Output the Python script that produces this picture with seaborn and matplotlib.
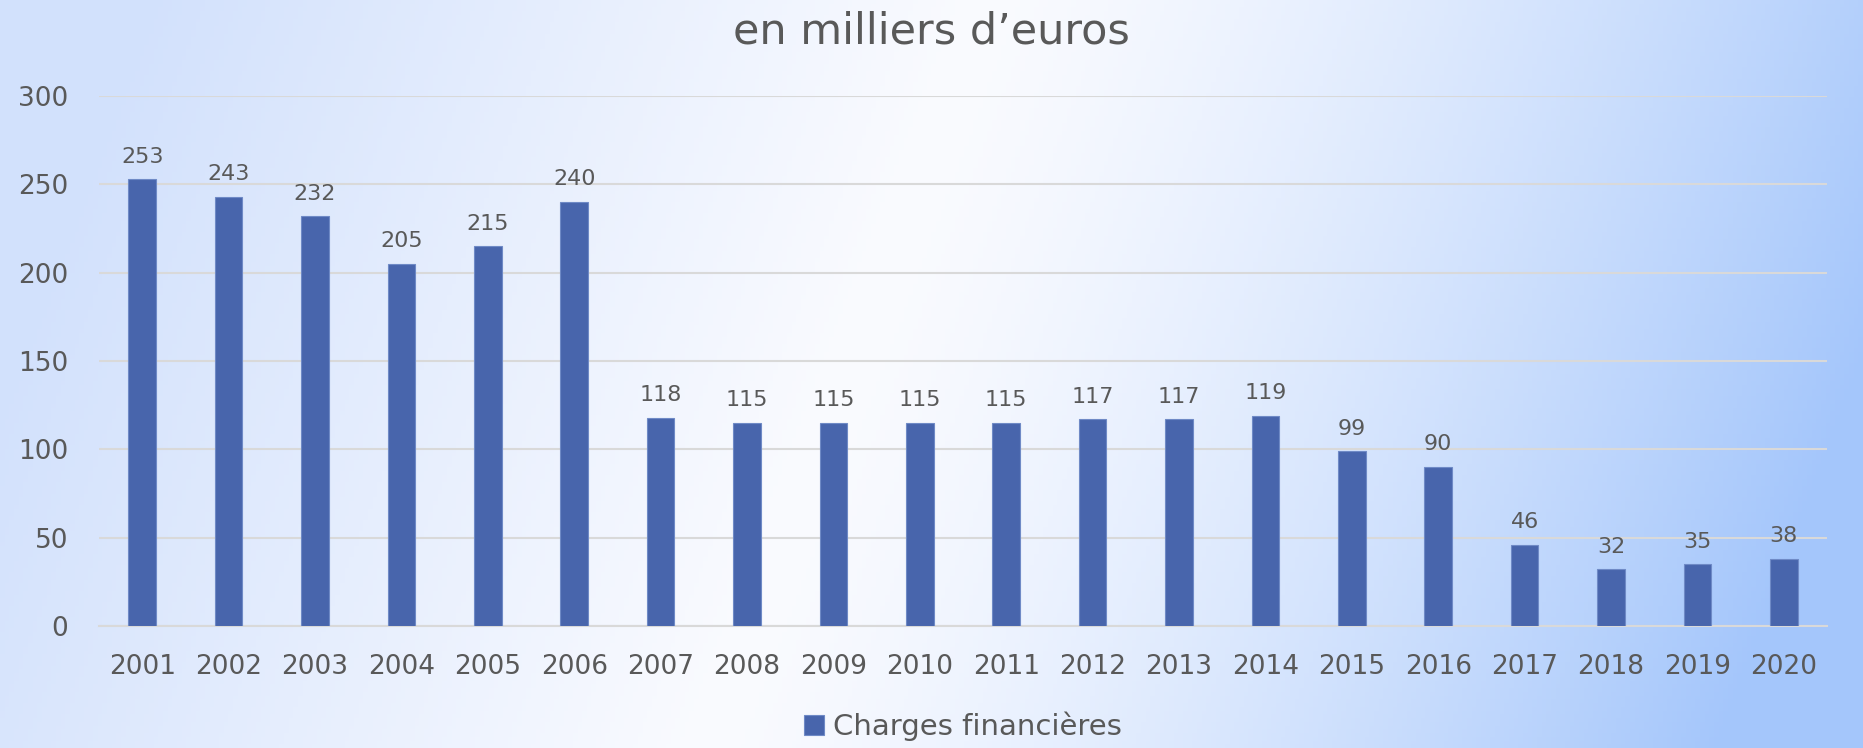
import numpy as np
import pandas as pd
import seaborn as sns
import matplotlib
matplotlib.use('Agg')
import matplotlib.pyplot as plt

# data
years = [str(y) for y in range(2001, 2021)]
charges = [253, 243, 232, 205, 215, 240, 118, 115, 115, 115,
           115, 117, 117, 119, 99, 90, 46, 32, 35, 38]
series_name = 'Charges financières'
title = 'en milliers d\u2019euros'

df = pd.DataFrame({'annee': years, 'valeur': charges})

sns.set_theme(style='white')
plt.rcParams['font.family'] = ['DejaVu Sans']

text_col = '#595959'
bar_col = '#4865ac'

fig = plt.figure(figsize=(18.63, 7.48), dpi=100)

# background gradient (light blue -> white -> blue)
bg = fig.add_axes([0, 0, 1, 1], zorder=-10)
xx, yy = np.meshgrid(np.linspace(0, 1, 400), np.linspace(0, 1, 200))
t = xx + 0.15 * (yy - 0.5)
left = np.array([210, 225, 252]) / 255
white = np.array([250, 251, 255]) / 255
right = np.array([164, 198, 251]) / 255
img = np.zeros(xx.shape + (3,))
for k in range(3):
    img[..., k] = np.where(
        t < 0.45,
        left[k] + (white[k] - left[k]) * np.clip(t / 0.45, 0, 1),
        white[k] + (right[k] - white[k]) * np.clip((t - 0.45) / 0.55, 0, 1) ** 1.4)
bg.imshow(img, aspect='auto', extent=[0, 1, 0, 1], origin='upper')
bg.axis('off')

ax = fig.add_axes([0.0531, 0.1631, 0.9276, 0.7086])
ax.patch.set_alpha(0)

sns.barplot(data=df, x='annee', y='valeur', color=bar_col, width=0.32,
            edgecolor='#6f8ac6', linewidth=0.8, label=series_name, ax=ax,
            saturation=1, zorder=3)

ax.set_ylim(0, 300)
ax.set_xlim(-0.5, len(years) - 0.5)
ax.set_yticks(range(0, 301, 50))
ax.yaxis.grid(True, color='#d9d9d9', linewidth=1.5, zorder=0)
ax.set_axisbelow(True)
for s in ['top', 'right', 'left']:
    ax.spines[s].set_visible(False)
ax.spines['bottom'].set_color('#d9d9d9')
ax.spines['bottom'].set_linewidth(1.5)
ax.tick_params(axis='both', length=0, labelsize=19, colors=text_col)
ax.tick_params(axis='x', pad=20)
ax.tick_params(axis='y', pad=22)
ax.set_xlabel('')
ax.set_ylabel('')

ax.bar_label(ax.containers[0], labels=[str(v) for v in charges],
             padding=9, fontsize=16, color=text_col)

fig.text(0.5, 0.958, title, ha='center', va='center', fontsize=31, color=text_col)

leg = ax.legend(loc='center', bbox_to_anchor=(0.5, -0.19), frameon=False,
                fontsize=21, handlelength=0.7, handleheight=0.7, handletextpad=0.3)
for txt in leg.get_texts():
    txt.set_color(text_col)

fig.savefig('out.png', dpi=100)
